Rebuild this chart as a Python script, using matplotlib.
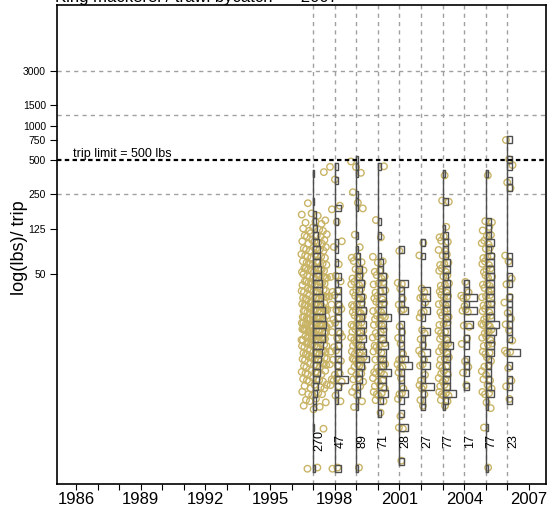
import matplotlib
matplotlib.use("Agg")
import matplotlib.pyplot as plt
from matplotlib.patches import Rectangle
from matplotlib.ticker import NullLocator

plt.rcParams['font.family'] = ['Liberation Sans', 'DejaVu Sans']

years = [1997, 1998, 1999, 2000, 2001, 2002, 2003, 2004, 2005, 2006]
n_trips = [270, 47, 89, 71, 28, 27, 77, 17, 77, 23]

### trips per log10 bin: bin k holds trips of about 10**(k*0.06) lbs
BIN = 0.06
bins_1997 = {43: 1, 39: 1, 37: 3, 36: 4, 35: 5, 34: 6, 33: 7, 32: 8, 31: 8, 30: 9,
             29: 10, 28: 10, 27: 11, 26: 11, 25: 12, 24: 12, 23: 14, 22: 15, 21: 16,
             20: 15, 19: 14, 18: 12, 17: 11, 16: 10, 15: 9, 14: 8, 13: 7, 12: 6,
             11: 5, 10: 4, 9: 3, 6: 1, 0: 2}
bins_1998 = {44: 1, 42: 1, 38: 2, 36: 1, 33: 1, 32: 1, 30: 1, 28: 2, 27: 1, 26: 2,
             25: 2, 24: 2, 23: 2, 22: 2, 21: 2, 20: 2, 19: 2, 18: 2, 17: 2, 16: 2,
             15: 2, 14: 2, 13: 4, 12: 2, 11: 1, 10: 1, 0: 2}
bins_1999 = {45: 1, 44: 1, 43: 1, 40: 1, 39: 1, 38: 1, 34: 1, 32: 1, 31: 2, 30: 2,
             29: 3, 28: 3, 27: 4, 26: 3, 25: 4, 24: 4, 23: 5, 22: 4, 21: 5, 20: 4,
             19: 5, 18: 4, 17: 5, 16: 7, 15: 4, 14: 3, 13: 3, 12: 2, 11: 2, 10: 1,
             9: 1, 0: 1}
bins_2000 = {44: 1, 36: 1, 34: 1, 31: 1, 30: 2, 29: 2, 28: 3, 27: 3, 26: 3, 25: 3,
             24: 3, 23: 3, 22: 5, 21: 3, 20: 3, 19: 3, 18: 4, 17: 3, 16: 3, 15: 3,
             14: 5, 13: 3, 12: 3, 11: 4, 10: 2, 8: 1}
bins_2001 = {32: 1, 27: 2, 26: 1, 25: 1, 24: 1, 23: 2, 21: 1, 20: 1, 19: 1, 18: 1,
             17: 1, 16: 2, 15: 3, 14: 1, 13: 1, 12: 1, 11: 2, 10: 1, 8: 1, 6: 2, 1: 1}
bins_2002 = {33: 1, 31: 1, 26: 2, 25: 2, 24: 1, 23: 2, 22: 1, 20: 2, 19: 1, 18: 1,
             17: 2, 16: 1, 15: 2, 14: 1, 13: 1, 12: 3, 11: 1, 10: 1, 9: 1}
bins_2003 = {43: 1, 39: 2, 35: 1, 34: 2, 33: 2, 32: 2, 31: 2, 30: 3, 29: 3, 28: 2,
             27: 3, 26: 3, 25: 3, 24: 3, 23: 3, 22: 3, 21: 3, 20: 3, 19: 3, 18: 4,
             17: 3, 16: 3, 15: 3, 14: 3, 13: 3, 12: 3, 11: 5, 10: 2, 9: 1}
bins_2004 = {27: 1, 26: 1, 25: 3, 24: 1, 23: 3, 21: 2, 19: 1, 18: 1, 16: 1, 15: 1,
             14: 1, 12: 1}
bins_2005 = {43: 1, 36: 2, 35: 2, 34: 2, 33: 3, 32: 2, 31: 3, 30: 3, 29: 3, 28: 3,
             27: 3, 26: 3, 25: 3, 24: 3, 23: 3, 22: 3, 21: 5, 20: 4, 19: 3, 18: 3,
             17: 3, 16: 2, 15: 2, 14: 2, 13: 2, 12: 2, 11: 3, 10: 1, 9: 1, 6: 1, 0: 1}
bins_2006 = {48: 1, 45: 1, 44: 1, 42: 1, 41: 1, 31: 1, 30: 1, 28: 1, 27: 1, 25: 1,
             24: 1, 23: 1, 22: 1, 21: 1, 20: 1, 19: 1, 17: 3, 15: 1, 13: 1, 12: 1,
             10: 1}
yearly_bins = [bins_1997, bins_1998, bins_1999, bins_2000, bins_2001,
               bins_2002, bins_2003, bins_2004, bins_2005, bins_2006]

y_ticks = [50, 125, 250, 500, 750, 1000, 1500, 3000]
y_grid = [250, 1250, 3000]
trip_limit = 500

# half width (in years) of the sideways spread of each year's points
spread = [0.6, 0.3, 0.3, 0.3, 0.15, 0.15, 0.25, 0.2, 0.25, 0.2]

tan = '#c9b466'
dark = '#4f4f4f'
grid_col = '#a0a0a0'

fig = plt.figure(figsize=(5.47, 5.12), dpi=100)
ax = fig.add_axes([57 / 547, 28 / 512, 488.5 / 547, 479.5 / 512])
ax.set_yscale('log')
ax.set_xlim(1985.12, 2007.77)
ax.set_ylim(0.736, 11450)

for g in y_grid:
    ax.axhline(g, color=grid_col, lw=1, ls=(0, (3, 3)), zorder=1)
for yr in years:
    ax.axvline(yr, color=grid_col, lw=1, ls=(0, (3, 3)), zorder=1)

### points, then the sideways histogram of each year
for yr, bins, n, w in zip(years, yearly_bins, n_trips, spread):
    xs, ys = [], []
    j = 0
    for k in sorted(bins):
        for i in range(bins[k]):
            j += 1
            # even (golden ratio) sideways spread so points don't sit on top of each other
            u = (j * 0.6180339) % 1.0
            v = (j * 0.7548777) % 1.0
            xs.append(yr + 0.05 + (2 * u - 1) * w)
            ys.append(10 ** ((k + (v - 0.5) * 0.7) * BIN))
    ax.scatter(xs, ys, s=22, facecolors='none', edgecolors=tan, linewidths=1, zorder=2)

    maxc = max(bins.values())
    for k, c in bins.items():
        lo = 10 ** ((k - 0.5) * BIN)
        hi = 10 ** ((k + 0.5) * BIN)
        ax.add_patch(Rectangle((yr, lo), c / maxc * 0.6, hi - lo, fill=False,
                               ec=dark, lw=1, zorder=3))
    kmin, kmax = min(bins), max(bins)
    ax.plot([yr, yr], [10 ** ((kmin - 0.5) * BIN), 10 ** ((kmax + 0.5) * BIN)],
            color=dark, lw=1, zorder=3)
    ax.text(yr + 0.27, 1.75, str(n), rotation=90, ha='center', va='center',
            fontsize=9, zorder=5)

ax.axhline(trip_limit, color='black', lw=1.6, ls=(0, (2, 1.5)), zorder=4)
ax.text(1985.86, 531, 'trip limit = %d lbs' % trip_limit, fontsize=9, va='baseline')

ax.set_yticks(y_ticks)
ax.set_yticklabels([str(t) for t in y_ticks])
ax.yaxis.set_minor_locator(NullLocator())
ax.tick_params(axis='y', labelsize=7.5, length=5, pad=3)

xt = list(range(1986, 2008))
ax.set_xticks(xt)
ax.set_xticklabels([str(t) if (t - 1986) % 3 == 0 else '' for t in xt])
ax.tick_params(axis='x', labelsize=12, length=4, pad=2)

for s in ax.spines.values():
    s.set_linewidth(1.2)

fig.text(20 / 547, 1 - 248 / 512, 'log(lbs)/ trip', rotation=90, ha='center',
         va='center', fontsize=13)
# title sits mostly above the top edge, as in the original
fig.text(55 / 547, 1 - 2 / 512, 'King mackerel / trawl bycatch  =  2007',
         fontsize=12, va='baseline')

fig.savefig('out.png', dpi=100)
